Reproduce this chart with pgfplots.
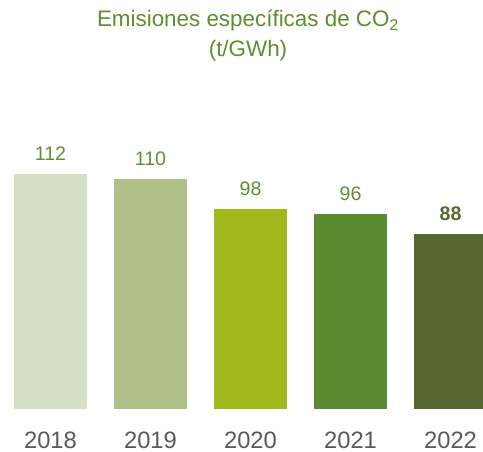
\documentclass[border=0pt]{standalone}
\usepackage{fontspec}
\setmainfont{Liberation Sans}
\usepackage{pgfplots}
\pgfplotsset{compat=1.18}

\definecolor{c18}{HTML}{D7DFC5}
\definecolor{c19}{HTML}{AFC089}
\definecolor{c20}{HTML}{A2B91E}
\definecolor{c21}{HTML}{5A8A2E}
\definecolor{c22}{HTML}{556630}
\definecolor{valc}{HTML}{5E8F35}
\definecolor{valdark}{HTML}{556B2F}
\definecolor{yearc}{HTML}{595959}
\definecolor{titlec}{HTML}{5B8F2F}

\begin{document}
\begin{tikzpicture}[x=1pt,y=1pt]
\useasboundingbox (0,-32.25) rectangle (362.25,306.75);
\begin{axis}[
  at={(0,0)}, anchor=south west,
  scale only axis,
  width=362.25pt, height=225pt,
  xmin=-0.505, xmax=4.325,
  ymin=18, ymax=138,
  ybar, bar width=0.73, bar shift=0pt,
  axis line style={draw=none},
  tick style={draw=none},
  ytick=\empty,
  xtick={0,1,2,3,4},
  xticklabels={2018,2019,2020,2021,2022},
  xticklabel style={font=\fontsize{17.8}{20}\selectfont, color=yearc, anchor=base, yshift=-25.5pt},
  /pgf/number format/assume math mode=true,
  nodes near coords,
  every node near coord/.append style={anchor=base, yshift=9.75pt, font=\fontsize{14.7}{16}\selectfont, color=valc},
]
\addplot[fill=c18, draw=none] coordinates {(0,112)};
\addplot[fill=c19, draw=none] coordinates {(1,110)};
\addplot[fill=c20, draw=none] coordinates {(2,98)};
\addplot[fill=c21, draw=none] coordinates {(3,96)};
\addplot[fill=c22, draw=none, every node near coord/.append style={color=valdark, font=\fontsize{14.7}{16}\selectfont\bfseries}] coordinates {(4,88)};
\end{axis}
\node[anchor=base, color=titlec, font=\fontsize{16.8}{18}\selectfont] at (186,286.5) {Emisiones específicas de CO\textsubscript{2}};
\node[anchor=base, color=titlec, font=\fontsize{16.8}{18}\selectfont] at (186,264) {(t/GWh)};
\end{tikzpicture}
\end{document}
